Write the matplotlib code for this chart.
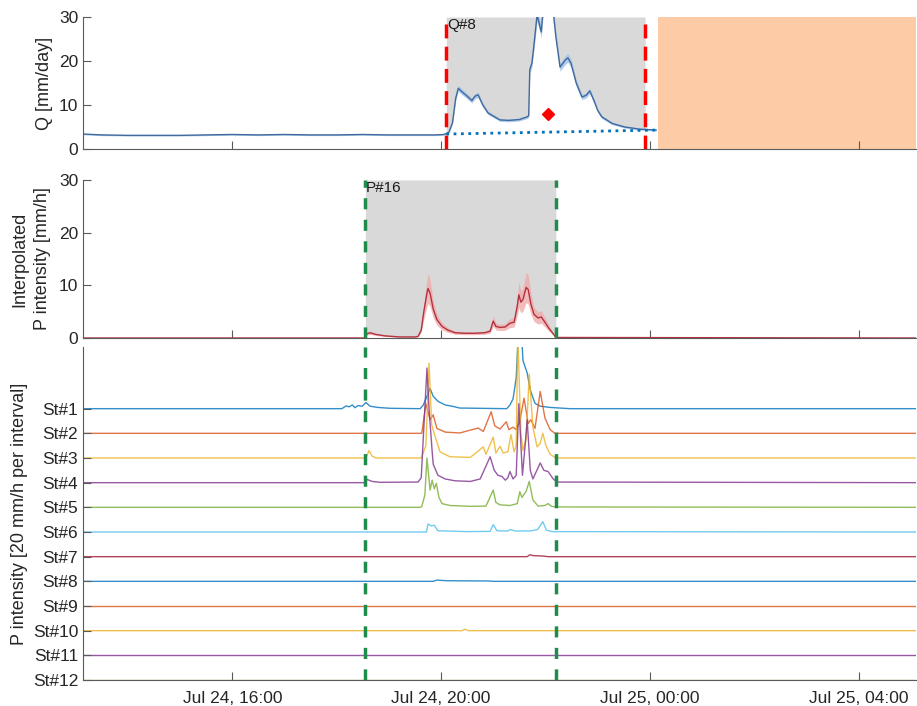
import numpy as np
import matplotlib
matplotlib.use("Agg")
import matplotlib.pyplot as plt
import matplotlib.dates as mdates
from datetime import datetime

plt.rcParams['font.family'] = ['Liberation Sans', 'DejaVu Sans']

# time is given in hours since Jul 24, 00:00
day0 = mdates.date2num(datetime(2021, 7, 24))
t_min, t_max = 13.14, 29.1

# discharge (mm/day)
Q_t = [13.14, 13.5, 14.0, 14.5, 15.0, 15.5, 16.0, 16.5, 17.0, 17.5, 18.0, 18.5, 19.0, 19.5,
       19.9, 20.05, 20.1, 20.15, 20.22, 20.28, 20.33, 20.4, 20.5, 20.59, 20.65, 20.71, 20.8,
       20.9, 21.0, 21.13, 21.3, 21.5, 21.65, 21.68, 21.70, 21.74, 21.77, 21.84, 21.92, 21.95,
       22.05, 22.15, 22.16, 22.2, 22.28, 22.38, 22.43, 22.49, 22.59, 22.7, 22.78, 22.85,
       22.93, 23.0, 23.08, 23.28, 23.52, 23.81, 23.91, 24.12]
Q_v = [3.4, 3.2, 3.1, 3.1, 3.1, 3.2, 3.3, 3.2, 3.3, 3.2, 3.2, 3.3, 3.2, 3.2,
       3.2, 3.3, 3.5, 3.8, 6.0, 11.5, 13.8, 13.0, 12.0, 11.0, 12.0, 12.3, 10.0,
       8.2, 7.5, 6.6, 6.5, 6.7, 7.3, 7.6, 18.0, 19.5, 22.5, 30.5, 26.6, 31.0,
       40.0, 32.0, 30.0, 25.5, 18.6, 20.2, 20.7, 19.5, 15.0, 11.8, 12.2, 13.2,
       11.0, 8.8, 7.3, 5.8, 5.0, 4.5, 4.45, 4.3]
Q_rel_err = 0.05
baseflow_t = [20.1, 24.12]
baseflow_v = [3.4, 4.3]
Q_event = (20.1, 23.91)
Q_peak = (22.05, 8.0)
no_data_start = 24.16

# interpolated precipitation intensity (mm/h)
P_t = [13.14, 18.55, 18.58, 18.64, 18.74, 18.93, 19.21, 19.50, 19.56, 19.62, 19.67, 19.73,
       19.75, 19.79, 19.85, 19.92, 20.02, 20.13, 20.27, 20.46, 20.65, 20.84, 20.94, 21.0,
       21.05, 21.13, 21.23, 21.32, 21.40, 21.46, 21.49, 21.53, 21.57, 21.63, 21.67, 21.72,
       21.78, 21.86, 21.92, 21.99, 22.07, 22.15, 22.20, 29.1]
P_v = [0, 0, 0.8, 1.0, 0.7, 0.4, 0.2, 0.2, 0.3, 1.5, 5.0, 8.5,
       9.4, 8.5, 5.5, 3.5, 2.2, 1.5, 1.0, 0.9, 0.9, 1.0, 1.3, 3.2,
       2.2, 2.0, 2.1, 2.8, 3.0, 6.0, 8.2, 6.8, 7.3, 9.6, 9.2, 6.5,
       4.5, 3.8, 4.0, 3.0, 1.8, 0.8, 0.1, 0]
P_rel_err = 0.3
P_event = (18.55, 22.21)

# station intensities (mm/h)
st1_t = [13.14, 18.10, 18.18, 18.24, 18.30, 18.35, 18.41, 18.49, 18.56, 18.64, 18.79, 19.02,
         19.60, 19.66, 19.72, 19.79, 19.85, 19.94, 20.08, 20.21, 20.36, 21.26, 21.32, 21.38,
         21.44, 21.48, 21.53, 21.57, 21.65, 21.71, 21.80, 21.90, 22.09, 22.28, 22.47, 29.1]
st1_v = [0, 0, 2.2, 1.5, 3.0, 0.8, 2.5, 2.0, 5.0, 2.0, 1.0, 0.3,
         0, 3, 9, 16.5, 10, 6, 3, 2, 0.5, 0, 3, 8,
         25, 60, 70, 39, 29, 15, 4.3, 2, 1, 0.5, 0, 0]
st2_t = [13.14, 19.63, 19.71, 19.79, 19.85, 19.92, 20.08, 20.36, 20.71, 20.81, 20.96, 21.03,
         21.13, 21.25, 21.30, 21.38, 21.44, 21.51, 21.59, 21.67, 21.72, 21.80, 21.90, 21.99,
         22.09, 22.18, 29.1]
st2_v = [0, 0, 24, 11, 15, 4, 1, 0.3, 4.3, 1.5, 17.5, 6,
         3.5, 9.4, 3, 5, 3, 10, 28.6, 8, 11, 4, 34, 12.5,
         3, 0, 0]
st3_t = [13.14, 18.56, 18.62, 18.68, 18.76, 19.62, 19.71, 19.77, 19.82, 19.89, 19.98, 20.17,
         20.56, 20.81, 20.86, 21.0, 21.05, 21.13, 21.19, 21.28, 21.34, 21.40, 21.44, 21.47,
         21.53, 21.57, 21.63, 21.69, 21.76, 21.84, 21.90, 21.95, 22.01, 22.09, 22.20, 29.1]
st3_v = [0, 0, 6, 1.5, 0, 0, 10, 77, 27, 17, 5, 1,
         0.5, 9, 3, 17, 4, 9.5, 4, 5, 19, 5, 10, 100,
         20, 6, 15, 68, 25, 9, 12, 20, 10, 3, 0, 0]
st4_t = [13.14, 18.56, 18.58, 18.68, 18.83, 19.56, 19.62, 19.73, 19.77, 19.83, 19.85, 19.94,
         20.08, 20.27, 20.56, 20.75, 20.94, 21.02, 21.09, 21.17, 21.23, 21.28, 21.32, 21.38,
         21.44, 21.49, 21.56, 21.61, 21.65, 21.71, 21.76, 21.90, 21.97, 22.05, 22.15, 22.22, 29.1]
st4_v = [0, 0, 2.7, 1, 0.3, 0.5, 4, 93, 60, 25, 15, 6,
         3, 1.5, 1, 3, 21, 10, 6, 5, 2, 4, 9, 3,
         6, 64, 6, 30, 51, 10, 3, 16, 10, 9, 3, 0.5, 0]
st5_t = [13.14, 19.60, 19.63, 19.69, 19.73, 19.79, 19.83, 19.87, 19.91, 19.96, 20.02, 20.17,
         20.56, 20.86, 21.0, 21.05, 21.13, 21.32, 21.46, 21.51, 21.55, 21.63, 21.69, 21.76,
         21.86, 21.99, 22.05, 22.11, 22.18, 29.1]
st5_v = [0, 0, 0.5, 10, 40, 14, 22, 15, 19.5, 8, 3, 1.5,
         0.8, 1, 14, 4, 2, 1.5, 3, 12.7, 8, 13, 21, 6,
         1, 1.5, 3, 1, 0.3, 0]
st6_t = [13.14, 19.72, 19.75, 19.81, 19.87, 19.94, 20.5, 20.94, 21.0, 21.07, 21.28, 21.33,
         21.42, 21.70, 21.85, 21.95, 22.02, 22.13, 29.1]
st6_v = [0, 0, 6.5, 5, 5.5, 1, 0.3, 0.5, 6, 1, 0.8, 2,
         0.8, 0.8, 2, 8.4, 1.5, 0.3, 0]
st7_t = [13.14, 21.65, 21.70, 21.78, 21.95, 22.05, 29.1]
st7_v = [0, 0, 1.5, 0.8, 0.5, 0, 0]
st8_t = [13.14, 19.85, 19.92, 20.1, 20.4, 20.9, 21.0, 29.1]
st8_v = [0, 0, 1.0, 0.5, 0.4, 0.3, 0, 0]
st9_t = [13.14, 29.1]
st9_v = [0, 0]
st10_t = [13.14, 20.4, 20.46, 20.52, 29.1]
st10_v = [0, 0, 1.2, 0, 0]
st11_t = [13.14, 29.1]
st11_v = [0, 0]
st12_t = [13.14, 29.1]
st12_v = [0, 0]

stations = ['St#%d' % k for k in range(1, 13)]
station_series = [(st1_t, st1_v), (st2_t, st2_v), (st3_t, st3_v), (st4_t, st4_v),
                  (st5_t, st5_v), (st6_t, st6_v), (st7_t, st7_v), (st8_t, st8_v),
                  (st9_t, st9_v), (st10_t, st10_v), (st11_t, st11_v), (st12_t, st12_v)]
interval = 20.0  # mm/h per station interval

mat_colors = ['#0072BD', '#D95319', '#EDB120', '#7E2F8E', '#77AC30', '#4DBEEE', '#A2142F']


def hrs(h):
    return day0 + np.asarray(h, dtype=float) / 24.0


def style(ax, labels=False):
    for s in ['top', 'right']:
        ax.spines[s].set_visible(False)
    for s in ['left', 'bottom']:
        ax.spines[s].set_color('#5a5a5a')
        ax.spines[s].set_linewidth(0.8)
    ax.tick_params(direction='in', length=6, width=0.8, color='#5a5a5a',
                   labelcolor='#262626', labelsize=12.5)
    ax.set_xlim(hrs(t_min), hrs(t_max))
    ax.xaxis.set_major_locator(mdates.HourLocator(byhour=[0, 4, 8, 12, 16, 20]))
    ax.xaxis.set_major_formatter(mdates.DateFormatter('%b %d, %H:%M'))
    if not labels:
        ax.tick_params(axis='x', labelbottom=False)


fig = plt.figure(figsize=(9.17, 7.06), dpi=100)
W, H = 917.0, 706.0
L, R = 83, 916

ax1 = fig.add_axes([L / W, 1 - 149 / H, (R - L) / W, 132 / H])
ax2 = fig.add_axes([L / W, 1 - 338 / H, (R - L) / W, 158 / H])
ax3 = fig.add_axes([L / W, 1 - 680 / H, (R - L) / W, 333 / H])

red_dash = (0, (4, 2.4))
green_dash = (0, (3.2, 3))

# ---- discharge ----
tq = np.array(Q_t)
q = np.array(Q_v)
ev = (tq >= Q_event[0]) & (tq <= Q_event[1])
ax1.fill_between(hrs(tq), np.minimum(q, 30), 30, where=ev, color='#d9d9d9', lw=0)
ax1.axvspan(hrs(no_data_start), hrs(t_max), color='#fdcca6', lw=0)
ax1.fill_between(hrs(tq), q * (1 - Q_rel_err), q * (1 + Q_rel_err), color='#9fc3e6', lw=0, alpha=0.8)
ax1.plot(hrs(tq), q, color='#41699e', lw=1.0)
ax1.plot(hrs(baseflow_t), baseflow_v, ':', color='#0072BD', lw=2)
for tv in Q_event:
    ax1.axvline(hrs(tv), color='#ff0000', lw=2.5, ls=red_dash)
ax1.plot(hrs(Q_peak[0]), Q_peak[1], 'D', color='#ff0000', ms=6)
ax1.text(hrs(Q_event[0] + 0.01), 29.8, 'Q#8', fontsize=11, va='top', ha='left', color='#1a1a1a')
ax1.set_ylim(0, 30)
ax1.set_yticks([0, 10, 20, 30])
style(ax1)
ax1.set_ylabel('Q [mm/day]', fontsize=13, color='#262626')
ax1.yaxis.set_label_coords(-0.036, 0.5)

# ---- interpolated precipitation ----
tp = np.array(P_t)
p = np.array(P_v)
evp = (tp >= P_event[0]) & (tp <= P_event[1])
ax2.fill_between(hrs(tp), p, 30, where=evp, color='#d9d9d9', lw=0, interpolate=True)
ax2.fill_between(hrs(tp), p * (1 - P_rel_err), p * (1 + P_rel_err), color='#f2aaaa', lw=0, alpha=0.8)
ax2.plot(hrs(tp), p, color='#b2323f', lw=1.0)
for tv in P_event:
    ax2.axvline(hrs(tv), color='#208c4c', lw=2.5, ls=green_dash)
ax2.text(hrs(P_event[0] + 0.01), 29.8, 'P#16', fontsize=11, va='top', ha='left', color='#1a1a1a')
ax2.set_ylim(0, 30)
ax2.set_yticks([0, 10, 20, 30])
style(ax2)
ax2.set_ylabel('Interpolated\nP intensity [mm/h]', fontsize=13, color='#262626', linespacing=1.45)
ax2.yaxis.set_label_coords(-0.038, 0.5)

# ---- station intensities, stacked ----
n = len(stations)
for k, (ts, vs) in enumerate(station_series):
    base = n - 1 - k
    ax3.plot(hrs(ts), base + np.array(vs) / interval, color=mat_colors[k % 7], lw=1.0,
             alpha=0.8, zorder=1)
for tv in P_event:
    ax3.axvline(hrs(tv), color='#208c4c', lw=2.5, ls=green_dash, zorder=3)
ax3.set_ylim(0, 13.5)
ax3.set_yticks(np.arange(n - 1, -1, -1))
ax3.set_yticklabels(stations)
style(ax3, labels=True)
ax3.tick_params(axis='x', pad=8)
ax3.set_ylabel('P intensity [20 mm/h per interval]', fontsize=13, color='#262626')
ax3.yaxis.set_label_coords(-0.066, 0.5)

fig.savefig('out.png', dpi=100)
